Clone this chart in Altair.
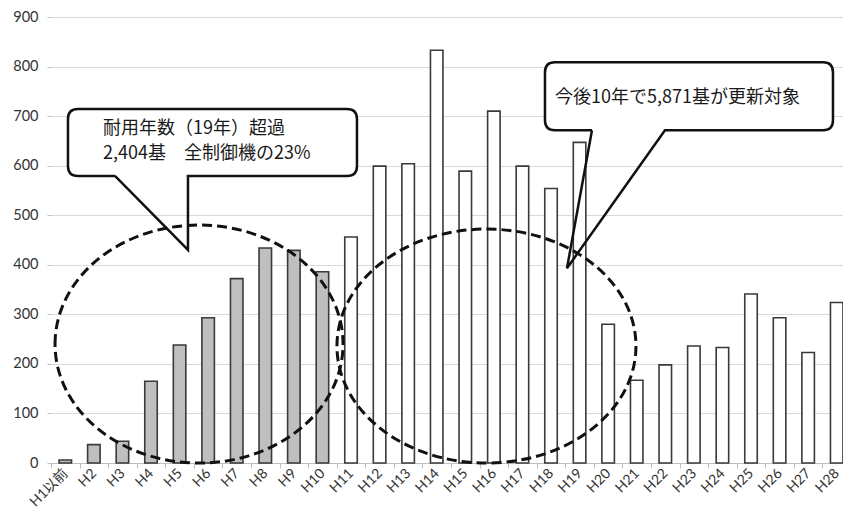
import altair as alt
import pandas as pd

# ---- data ----
categories = ["H1以前", "H2", "H3", "H4", "H5", "H6", "H7", "H8", "H9", "H10",
              "H11", "H12", "H13", "H14", "H15", "H16", "H17", "H18", "H19", "H20",
              "H21", "H22", "H23", "H24", "H25", "H26", "H27", "H28"]
values = [6, 37, 44, 165, 238, 293, 372, 434, 429, 386,
          456, 599, 604, 833, 589, 710, 599, 554, 647, 280,
          167, 198, 236, 233, 341, 293, 223, 324]
groups = ["耐用年数超過"] * 10 + ["その他"] * 18
y_ticks = [0, 100, 200, 300, 400, 500, 600, 700, 800, 900]

note_left = ["耐用年数（19年）超過", "2,404基　全制御機の23%"]
note_right = "今後10年で5,871基が更新対象"

bars_df = pd.DataFrame({"cat": categories, "value": values, "group": groups})

FONT_AX = "Lato, Noto Sans CJK JP"
FONT_JP = "Noto Sans CJK JP"

x_scale = alt.Scale(domain=categories, range=[0, 800], paddingInner=0, paddingOuter=0)
y_scale = alt.Scale(domain=[0, 900], nice=False)


def X(axis=None):
    if axis is None:
        return alt.X("cat:N", sort=categories, scale=x_scale, title=None)
    return alt.X("cat:N", sort=categories, scale=x_scale, title=None, axis=axis)


def Y(axis=None):
    if axis is None:
        return alt.Y("value:Q", scale=y_scale, title=None)
    return alt.Y("value:Q", scale=y_scale, title=None, axis=axis)


bars = alt.Chart(bars_df).mark_bar(size=12.5, stroke="#3a3a3a", strokeWidth=1.6).encode(
    x=X(alt.Axis(labelAngle=-45, labelAlign="right", labelBaseline="middle",
                 labelPadding=3, labelFont=FONT_AX, labelFontSize=14,
                 labelColor="#333333", domainColor="#bfbfbf", tickColor="#bfbfbf",
                 tickSize=5, tickBand="extent", grid=False, labelOverlap=False)),
    y=Y(alt.Axis(values=y_ticks, labelFont=FONT_AX, labelFontSize=14.5,
                 labelColor="#333333", domain=False, tickColor="#bfbfbf",
                 tickSize=4, labelPadding=9, gridColor="#d9d9d9")),
    color=alt.Color("group:N", scale=alt.Scale(domain=["耐用年数超過", "その他"],
                                               range=["#bfbfbf", "#ffffff"]), legend=None),
)


# ---- annotation shapes (pixel geometry relative to a data anchor) ----
def ellipse_path(dx, rx, ry):
    k = 0.5523
    return (f"M {dx - rx} 0 C {dx - rx} {-k * ry} {dx - k * rx} {-ry} {dx} {-ry} "
            f"C {dx + k * rx} {-ry} {dx + rx} {-k * ry} {dx + rx} 0 "
            f"C {dx + rx} {k * ry} {dx + k * rx} {ry} {dx} {ry} "
            f"C {dx - k * rx} {ry} {dx - rx} {k * ry} {dx - rx} 0 Z")


def box_path(l, r, t, b, rad=10):
    return (f"M {l + rad} {t} L {r - rad} {t} Q {r} {t} {r} {t + rad} "
            f"L {r} {b - rad} Q {r} {b} {r - rad} {b} L {l + rad} {b} "
            f"Q {l} {b} {l} {b - rad} L {l} {t + rad} Q {l} {t} {l + rad} {t} Z")


def callout_path(l, r, t, b, p1, p2, tx, ty, rad=10):
    return (f"M {p1} {b} L {l + rad} {b} Q {l} {b} {l} {b - rad} "
            f"L {l} {t + rad} Q {l} {t} {l + rad} {t} L {r - rad} {t} "
            f"Q {r} {t} {r} {t + rad} L {r} {b - rad} Q {r} {b} {r - rad} {b} "
            f"L {p2} {b} L {tx} {ty} L {p1} {b}")


def anchor(cat, val):
    return pd.DataFrame({"cat": [cat], "value": [val]})


def shape_layer(df, path, **kw):
    return alt.Chart(df).mark_point(shape=path, size=4, opacity=1, **kw).encode(x=X(), y=Y())


ell_style = dict(filled=False, stroke="#111111", strokeWidth=3, strokeDash=[10, 5])
ell_left = shape_layer(anchor("H6", 240), ellipse_path(-9.1, 144, 119), **ell_style)
ell_right = shape_layer(anchor("H16", 236), ellipse_path(-7.4, 149.5, 117), **ell_style)

# left callout anchored at H5 (pointer tip level)
cl = dict(l=-111.6, r=177.4, t=-141, b=-74)
left_fill = shape_layer(anchor("H5", 430), box_path(**cl), filled=True, fill="white", strokeWidth=0)
left_line = shape_layer(anchor("H5", 430), callout_path(p1=-64.6, p2=8.4, tx=8.4, ty=0, **cl),
                        filled=False, stroke="#111111", strokeWidth=2.5)

# right callout anchored at H19 (pointer tip level)
cr = dict(l=-34.6, r=253.4, t=-206, b=-138)
right_fill = shape_layer(anchor("H19", 393), box_path(**cr), filled=True, fill="white", strokeWidth=0)
right_line = shape_layer(anchor("H19", 393), callout_path(p1=12.4, p2=85.4, tx=-12.6, ty=0, **cr),
                         filled=False, stroke="#111111", strokeWidth=2.5)

txt_style = dict(font=FONT_JP, fontSize=18, color="#1a1a1a", align="left", baseline="middle")
left_df = pd.DataFrame({"cat": ["H5", "H5"], "value": [430, 430], "t": note_left, "row": [0, 1]})
left_txt = alt.Chart(left_df).transform_filter("datum.row == 0").mark_text(
    dx=-76.6, dy=-121, **txt_style).encode(x=X(), y=Y(), text="t:N")
left_txt2 = alt.Chart(left_df).transform_filter("datum.row == 1").mark_text(
    dx=-76.6, dy=-96, **txt_style).encode(x=X(), y=Y(), text="t:N")
right_txt = alt.Chart(pd.DataFrame({"cat": ["H19"], "value": [393], "t": [note_right]})).mark_text(
    dx=-24.6, dy=-170, **txt_style).encode(x=X(), y=Y(), text="t:N")

chart = alt.layer(
    bars, ell_left, ell_right, left_fill, left_line, right_fill, right_line,
    left_txt, left_txt2, right_txt
).properties(
    width=792, height=446,
    autosize=alt.AutoSizeParams(type="none"),
    padding={"left": 43, "top": 9, "right": 0, "bottom": 47},
    background="white",
).configure_view(stroke=None)

chart.save("out.html", embed_options={"renderer": "svg", "actions": False})
